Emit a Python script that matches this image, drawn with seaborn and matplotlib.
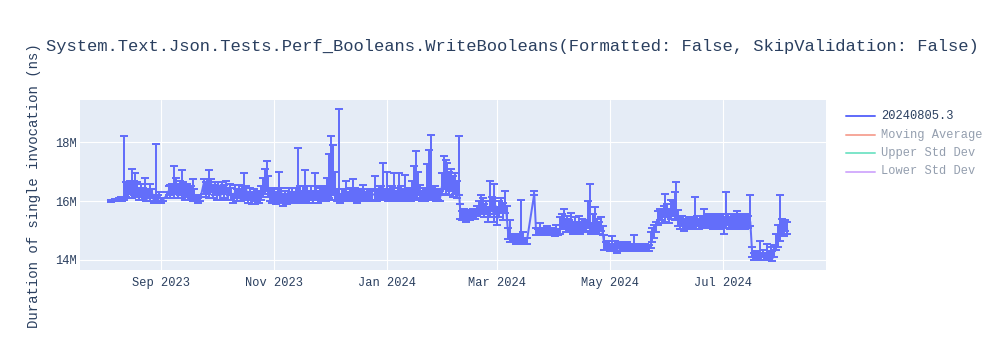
import numpy as np
import pandas as pd
import matplotlib
matplotlib.use("Agg")
import matplotlib.pyplot as plt
import matplotlib.dates as mdates
from matplotlib.lines import Line2D
import seaborn as sns

# ---------------- data (values in millions of ns) ----------------
dates = [
    # Aug 2023
    "2023-08-05", "2023-08-07", "2023-08-09", "2023-08-10", "2023-08-11", "2023-08-12", "2023-08-13",
    "2023-08-14", "2023-08-15", "2023-08-16", "2023-08-17", "2023-08-18", "2023-08-19", "2023-08-20",
    "2023-08-21", "2023-08-22", "2023-08-23", "2023-08-24", "2023-08-25", "2023-08-26", "2023-08-27",
    "2023-08-28", "2023-08-29", "2023-08-30", "2023-08-31",
    # Sep 2023
    "2023-09-01", "2023-09-02", "2023-09-04", "2023-09-05", "2023-09-06", "2023-09-07", "2023-09-08",
    "2023-09-09", "2023-09-10", "2023-09-11", "2023-09-12", "2023-09-13", "2023-09-14", "2023-09-15",
    "2023-09-16", "2023-09-17", "2023-09-18", "2023-09-19", "2023-09-20", "2023-09-21", "2023-09-22",
    "2023-09-24", "2023-09-25", "2023-09-26", "2023-09-27", "2023-09-28", "2023-09-29", "2023-09-30",
    # Oct 2023
    "2023-10-01", "2023-10-02", "2023-10-03", "2023-10-04", "2023-10-05", "2023-10-06", "2023-10-07",
    "2023-10-08", "2023-10-09", "2023-10-10", "2023-10-11", "2023-10-12", "2023-10-13", "2023-10-14",
    "2023-10-15", "2023-10-16", "2023-10-17", "2023-10-18", "2023-10-19", "2023-10-20", "2023-10-21",
    "2023-10-22", "2023-10-23", "2023-10-24", "2023-10-25", "2023-10-26", "2023-10-27", "2023-10-28",
    "2023-10-29", "2023-10-30", "2023-10-31",
    # Nov 2023
    "2023-11-01", "2023-11-02", "2023-11-03", "2023-11-04", "2023-11-05", "2023-11-06", "2023-11-07",
    "2023-11-08", "2023-11-09", "2023-11-10", "2023-11-11", "2023-11-12", "2023-11-13", "2023-11-14",
    "2023-11-15", "2023-11-16", "2023-11-17", "2023-11-18", "2023-11-19", "2023-11-20", "2023-11-21",
    "2023-11-22", "2023-11-23", "2023-11-24", "2023-11-25", "2023-11-26", "2023-11-27", "2023-11-28",
    "2023-11-29", "2023-11-30",
    # Dec 2023
    "2023-12-01", "2023-12-02", "2023-12-03", "2023-12-04", "2023-12-05", "2023-12-06", "2023-12-07",
    "2023-12-08", "2023-12-09", "2023-12-10", "2023-12-11", "2023-12-12", "2023-12-13", "2023-12-14",
    "2023-12-15", "2023-12-16", "2023-12-17", "2023-12-18", "2023-12-19", "2023-12-20", "2023-12-21",
    "2023-12-22", "2023-12-23", "2023-12-24", "2023-12-26", "2023-12-27", "2023-12-28", "2023-12-29",
    "2023-12-30", "2023-12-31",
    # Jan 2024
    "2024-01-01", "2024-01-02", "2024-01-03", "2024-01-04", "2024-01-05", "2024-01-06", "2024-01-07",
    "2024-01-08", "2024-01-09", "2024-01-10", "2024-01-11", "2024-01-12", "2024-01-13", "2024-01-14",
    "2024-01-15", "2024-01-16", "2024-01-17", "2024-01-18", "2024-01-19", "2024-01-20", "2024-01-21",
    "2024-01-22", "2024-01-23", "2024-01-24", "2024-01-25", "2024-01-26", "2024-01-27", "2024-01-28",
    "2024-01-29", "2024-01-30", "2024-01-31",
    # Feb 2024
    "2024-02-01", "2024-02-02", "2024-02-03", "2024-02-04", "2024-02-05", "2024-02-06", "2024-02-07",
    "2024-02-08", "2024-02-09", "2024-02-10", "2024-02-11", "2024-02-12", "2024-02-13", "2024-02-14",
    "2024-02-15", "2024-02-16", "2024-02-17", "2024-02-18", "2024-02-19", "2024-02-20", "2024-02-21",
    "2024-02-22", "2024-02-23", "2024-02-24", "2024-02-25", "2024-02-26", "2024-02-27", "2024-02-28",
    "2024-02-29",
    # Mar 2024
    "2024-03-01", "2024-03-02", "2024-03-03", "2024-03-04", "2024-03-05", "2024-03-06", "2024-03-07",
    "2024-03-08", "2024-03-09", "2024-03-10", "2024-03-11", "2024-03-12", "2024-03-13", "2024-03-14",
    "2024-03-15", "2024-03-16", "2024-03-17", "2024-03-21", "2024-03-22", "2024-03-23", "2024-03-24",
    "2024-03-25", "2024-03-26", "2024-03-27", "2024-03-28", "2024-03-29", "2024-03-30", "2024-03-31",
    # Apr 2024
    "2024-04-01", "2024-04-02", "2024-04-03", "2024-04-04", "2024-04-05", "2024-04-06", "2024-04-07",
    "2024-04-08", "2024-04-09", "2024-04-10", "2024-04-11", "2024-04-12", "2024-04-13", "2024-04-14",
    "2024-04-15", "2024-04-16", "2024-04-17", "2024-04-18", "2024-04-19", "2024-04-20", "2024-04-21",
    "2024-04-22", "2024-04-23", "2024-04-24", "2024-04-25", "2024-04-26", "2024-04-27", "2024-04-28",
    "2024-04-29", "2024-04-30",
    # May 2024
    "2024-05-01", "2024-05-02", "2024-05-03", "2024-05-04", "2024-05-05", "2024-05-06", "2024-05-07",
    "2024-05-08", "2024-05-09", "2024-05-10", "2024-05-11", "2024-05-12", "2024-05-13", "2024-05-14",
    "2024-05-15", "2024-05-16", "2024-05-17", "2024-05-18", "2024-05-19", "2024-05-20", "2024-05-21",
    "2024-05-22", "2024-05-23", "2024-05-24", "2024-05-25", "2024-05-26", "2024-05-27", "2024-05-28",
    "2024-05-29", "2024-05-30", "2024-05-31",
    # Jun 2024
    "2024-06-01", "2024-06-02", "2024-06-03", "2024-06-04", "2024-06-05", "2024-06-06", "2024-06-07",
    "2024-06-08", "2024-06-09", "2024-06-10", "2024-06-11", "2024-06-12", "2024-06-13", "2024-06-14",
    "2024-06-15", "2024-06-16", "2024-06-17", "2024-06-18", "2024-06-19", "2024-06-20", "2024-06-21",
    "2024-06-22", "2024-06-23", "2024-06-24", "2024-06-25", "2024-06-26", "2024-06-27", "2024-06-28",
    "2024-06-29", "2024-06-30",
    # Jul 2024
    "2024-07-01", "2024-07-02", "2024-07-03", "2024-07-04", "2024-07-05", "2024-07-06", "2024-07-07",
    "2024-07-08", "2024-07-09", "2024-07-10", "2024-07-11", "2024-07-12", "2024-07-13", "2024-07-14",
    "2024-07-15", "2024-07-16", "2024-07-17", "2024-07-18", "2024-07-19", "2024-07-20", "2024-07-21",
    "2024-07-22", "2024-07-23", "2024-07-24", "2024-07-25", "2024-07-26", "2024-07-27", "2024-07-28",
    "2024-07-29", "2024-07-30", "2024-07-31",
    # Aug 2024
    "2024-08-01", "2024-08-02", "2024-08-03", "2024-08-04", "2024-08-05",
]

duration_m = [
    # Aug 2023
    16.00, 16.02, 16.03, 16.10, 16.05, 16.15, 16.50, 16.30, 16.55, 16.25, 16.40, 16.30, 16.45, 16.15,
    16.35, 16.10, 16.30, 16.05, 16.20, 16.10, 16.30, 16.00, 16.10, 16.05, 16.20,
    # Sep 2023
    16.00, 16.05, 16.20, 16.35, 16.25, 16.45, 16.30, 16.50, 16.20, 16.40, 16.30, 16.45, 16.15, 16.35,
    16.10, 16.25, 16.10, 16.20, 16.05, 16.00, 16.05, 16.60, 16.35, 16.55, 16.30, 16.60, 16.25, 16.45,
    # Oct 2023
    16.20, 16.55, 16.15, 16.50, 16.25, 16.55, 16.10, 16.45, 16.20, 16.00, 16.35, 16.10, 16.40, 16.05,
    16.30, 16.20, 16.40, 16.05, 16.25, 15.95, 16.15, 16.00, 16.20, 16.05, 16.25, 16.45, 16.60, 16.70,
    16.45, 16.15, 16.00,
    # Nov 2023
    16.30, 15.95, 16.20, 16.05, 16.30, 15.90, 16.15, 15.95, 16.20, 16.00, 16.25, 16.05, 16.30, 16.10,
    16.35, 16.00, 16.25, 16.10, 16.30, 16.05, 16.25, 16.00, 16.20, 16.35, 16.05, 16.25, 16.10, 16.30,
    16.05, 16.40,
    # Dec 2023
    16.60, 16.45, 16.80, 16.20, 16.10, 16.15, 16.05, 16.25, 16.10, 16.20, 16.05, 16.25, 16.10, 16.15,
    16.30, 16.05, 16.20, 16.10, 16.15, 16.25, 16.05, 16.20, 16.10, 16.25, 16.20, 16.10, 16.30, 16.15,
    16.20, 16.10,
    # Jan 2024
    16.25, 16.10, 16.30, 16.15, 16.25, 16.05, 16.20, 16.15, 16.30, 16.10, 16.20, 16.05, 16.25, 16.10,
    16.30, 16.50, 16.40, 16.60, 16.20, 16.05, 16.25, 16.10, 16.30, 16.20, 16.40, 16.15, 16.30, 16.05,
    16.20, 16.10, 16.50,
    # Feb 2024
    16.80, 16.60, 16.90, 16.50, 16.75, 16.40, 16.60, 16.30, 16.55, 15.60, 15.45, 15.60, 15.40, 15.55,
    15.45, 15.50, 15.60, 15.50, 15.70, 15.85, 15.70, 15.90, 15.60, 15.80, 15.50, 15.75, 15.95, 15.55,
    15.85,
    # Mar 2024
    15.40, 15.70, 15.90, 15.60, 15.80, 15.55, 14.80, 14.70, 14.65, 14.75, 14.60, 14.70, 14.65, 14.80,
    14.70, 14.60, 14.65, 16.25, 14.95, 14.90, 15.00, 14.90, 14.95, 14.90, 15.00, 14.95, 14.90, 14.95,
    # Apr 2024
    14.90, 15.00, 14.90, 15.05, 15.25, 15.35, 15.10, 15.30, 15.05, 15.20, 15.00, 15.25, 15.05, 15.15,
    15.00, 15.20, 15.05, 15.15, 15.40, 15.20, 15.00, 15.25, 15.05, 15.20, 15.00, 15.15, 14.95, 14.50,
    14.45, 14.55,
    # May 2024
    14.40, 14.50, 14.40, 14.55, 14.35, 14.50, 14.40, 14.45, 14.35, 14.50, 14.40, 14.45, 14.35, 14.50,
    14.40, 14.45, 14.35, 14.45, 14.40, 14.45, 14.35, 14.40, 14.50, 14.80, 14.95, 15.15, 15.40, 15.55,
    15.45, 15.65, 15.50,
    # Jun 2024
    15.70, 15.45, 15.60, 15.80, 15.55, 15.70, 15.40, 15.20, 15.35, 15.10, 15.25, 15.15, 15.30, 15.15,
    15.25, 15.20, 15.35, 15.15, 15.30, 15.20, 15.35, 15.20, 15.40, 15.25, 15.35, 15.20, 15.40, 15.25,
    15.30, 15.20,
    # Jul 2024
    15.35, 15.15, 15.30, 15.40, 15.20, 15.35, 15.25, 15.35, 15.20, 15.35, 15.25, 15.40, 15.20, 15.35,
    15.25, 15.30, 14.25, 14.10, 14.20, 14.05, 14.25, 14.10, 14.20, 14.05, 14.20, 14.10, 14.25, 14.05,
    14.30, 14.55, 14.75,
    # Aug 2024
    15.00, 15.15, 15.00, 15.20, 15.05,
]

err_minus_m = [
    # Aug 2023
    .02, .02, .03, .05, .03, .10, .35, .20, .30, .15, .20, .15, .25, .10,
    .20, .05, .20, .05, .10, .10, .20, .05, .10, .05, .10,
    # Sep 2023
    .05, .05, .10, .15, .15, .20, .20, .25, .10, .20, .20, .20, .10, .20,
    .05, .15, .10, .15, .05, .05, .05, .35, .20, .30, .20, .30, .15, .25,
    # Oct 2023
    .15, .25, .10, .25, .15, .25, .05, .25, .15, .05, .25, .10, .25, .05,
    .20, .15, .30, .10, .20, .05, .15, .10, .20, .10, .20, .30, .35, .35,
    .30, .15, .05,
    # Nov 2023
    .25, .05, .20, .10, .25, .05, .20, .05, .20, .05, .20, .10, .25, .10,
    .25, .05, .20, .10, .25, .10, .20, .05, .15, .30, .10, .20, .10, .25,
    .05, .35,
    # Dec 2023
    .50, .40, .60, .15, .10, .10, .10, .20, .10, .15, .05, .20, .10, .15,
    .25, .10, .15, .10, .10, .20, .05, .15, .10, .20, .15, .10, .20, .10,
    .15, .05,
    # Jan 2024
    .15, .10, .20, .10, .20, .05, .15, .10, .25, .10, .15, .05, .20, .10,
    .25, .35, .30, .40, .15, .05, .20, .10, .25, .15, .30, .10, .20, .05,
    .15, .10, .30,
    # Feb 2024
    .40, .35, .50, .30, .40, .25, .35, .20, .35, .20, .10, .20, .10, .15,
    .10, .10, .15, .10, .20, .25, .15, .25, .15, .25, .20, .30, .30, .25,
    .30,
    # Mar 2024
    .20, .25, .30, .25, .20, .20, .10, .10, .05, .10, .05, .10, .10, .15,
    .10, .05, .10, .05, .10, .05, .10, .05, .10, .05, .10, .10, .05, .10,
    # Apr 2024
    .10, .10, .05, .15, .20, .25, .15, .25, .10, .20, .10, .20, .10, .15,
    .10, .15, .10, .15, .30, .25, .10, .25, .10, .20, .10, .15, .10, .15,
    .10, .15,
    # May 2024
    .10, .15, .10, .15, .10, .10, .10, .10, .05, .15, .10, .10, .05, .15,
    .10, .10, .05, .10, .10, .10, .05, .10, .10, .20, .20, .20, .20, .20,
    .20, .20, .20,
    # Jun 2024
    .25, .20, .20, .30, .20, .30, .25, .15, .20, .10, .15, .10, .20, .10,
    .15, .15, .20, .10, .15, .10, .20, .10, .20, .15, .20, .15, .25, .15,
    .15, .15,
    # Jul 2024
    .20, .25, .20, .20, .15, .20, .15, .20, .15, .20, .15, .25, .15, .20,
    .15, .15, .15, .10, .15, .05, .15, .10, .10, .05, .15, .10, .15, .10,
    .20, .20, .30,
    # Aug 2024
    .35, .25, .20, .20, .15,
]

err_plus_m = [
    # Aug 2023
    .03, .05, .08, .05, .10, 2.05, .15, .30, .15, .85, .30, .65, .20, .30,
    .25, .35, .50, .30, .20, .50, .10, .20, 1.85, .15, .10,
    # Sep 2023
    .10, .05, .10, .15, .30, .15, .90, .30, .40, .30, .75, .20, .35, .25,
    .40, .25, .65, .20, .15, .10, .10, .15, .30, .20, .75, .15, .30, .20,
    # Oct 2023
    .30, .10, .35, .15, .30, .15, .30, .15, .25, .25, .20, .30, .15, .30,
    .20, .75, .10, .25, .20, .30, .25, .30, .15, .25, .25, .35, .50, .65,
    .40, .30, .40,
    # Nov 2023
    .15, .35, .20, .95, .15, .35, .20, .30, .25, .30, .20, .25, .15, 1.70,
    .15, .35, .25, .95, .20, .30, .25, .35, .75, .15, .30, .20, .40, .20,
    .45, .40,
    # Dec 2023
    1.00, 1.75, 1.10, .80, .30, 3.00, .20, .15, .30, .50, .25, .20, .30, .60,
    .15, .30, .20, .25, .40, .15, .25, .20, .25, .15, .65, .30, .20, .35,
    1.10, .30,
    # Jan 2024
    .75, .30, .20, .35, .70, .30, .25, .80, .20, .30, .70, .30, .20, .30,
    .40, .70, 1.30, .40, .35, .30, .20, .35, .95, 1.55, 1.85, .35, .20, .30,
    .20, .25, .45,
    # Feb 2024
    .75, .80, .40, .50, .35, .45, .35, .40, 1.65, .30, .20, .15, .20, .15,
    .20, .15, .15, .20, .15, .15, .50, .20, .30, .20, .30, .95, .20, 1.05,
    .25,
    # Mar 2024
    .40, .30, .20, .35, .55, .30, .30, .65, .20, .15, .25, .20, .20, 1.25,
    .25, .15, .10, .10, .15, .15, .25, .15, .10, .20, .15, .15, .20, .15,
    # Apr 2024
    .10, .20, .15, .40, .30, .40, .30, .20, .30, .40, .30, .20, .25, .35,
    .25, .20, .25, .20, .60, 1.40, .25, .30, .75, .20, .30, .30, .20, .35,
    .15, .10,
    # May 2024
    .15, .30, .15, .10, .20, .10, .15, .15, .20, .10, .15, .10, .20, .35,
    .15, .10, .15, .10, .15, .10, .15, .10, .45, .30, .25, .15, .25, .20,
    .25, .20, .75,
    # Jun 2024
    .20, .30, .45, .20, .75, .95, .30, .25, .15, .25, .15, .20, .15, .25,
    .20, .95, .15, .25, .20, .30, .40, .25, .15, .25, .20, .25, .15, .20,
    .20, .25,
    # Jul 2024
    .20, .25, 1.00, .15, .25, .20, .25, .20, .45, .20, .25, .15, .25, .20,
    .25, .90, .20, .15, .10, .20, .40, .15, .15, .20, .35, .15, .20, .25,
    .20, .35, .45,
    # Aug 2024
    1.20, .25, .30, .15, .25,
]

series_name = "20240805.3"
hidden_series = ["Moving Average", "Upper Std Dev", "Lower Std Dev"]
hidden_colors = ["#EF553B", "#00CC96", "#AB63FA"]
title_text = "System.Text.Json.Tests.Perf_Booleans.WriteBooleans(Formatted: False, SkipValidation: False)"
y_label = "Duration of single invocation (ns)"
y_ticks_m = [14, 16, 18]
y_tick_labels = ["14M", "16M", "18M"]
x_tick_dates = ["2023-09-01", "2023-11-01", "2024-01-01", "2024-03-01", "2024-05-01", "2024-07-01"]

assert len(dates) == len(duration_m) == len(err_minus_m) == len(err_plus_m)

# ---------------- build frame ----------------
df = pd.DataFrame({
    "date": pd.to_datetime(dates),
    "duration": np.array(duration_m) * 1e6,
})
err = np.vstack([np.array(err_minus_m), np.array(err_plus_m)]) * 1e6

# ---------------- style ----------------
sns.set_theme(style="darkgrid", rc={
    "axes.facecolor": "#E5ECF6",
    "grid.color": "white",
    "grid.linewidth": 0.8,
    "axes.edgecolor": "none",
})
plt.rcParams["font.family"] = ["Liberation Mono", "DejaVu Sans"]
text_color = "#2a3f5f"
line_color = "#636efa"
PX = 72 / 100  # points per pixel

fig = plt.figure(figsize=(10, 3.5), dpi=100)
fig.patch.set_facecolor("white")
ax = fig.add_axes([80 / 1000, 1 - 270 / 350, (826 - 80) / 1000, 170 / 350])

# capsize in matplotlib is the half-width of the cap
ax.errorbar(df["date"], df["duration"], yerr=err, fmt="none", ecolor=line_color,
            elinewidth=2 * PX, capsize=4 * PX, capthick=2 * PX, zorder=2)
sns.lineplot(data=df, x="date", y="duration", ax=ax, color=line_color,
             linewidth=2 * PX, zorder=3, legend=False, estimator=None, sort=True)

ax.set_xlim(pd.Timestamp("2023-07-19"), pd.Timestamp("2024-08-26"))
ax.set_ylim(13.66e6, 19.44e6)
ax.set_yticks([v * 1e6 for v in y_ticks_m])
ax.set_yticklabels(y_tick_labels)
ax.set_xticks(pd.to_datetime(x_tick_dates))
ax.xaxis.set_major_formatter(mdates.DateFormatter("%b %Y"))
ax.set_xlabel("")
ax.set_ylabel("")
ax.tick_params(axis="both", length=0, labelsize=12 * PX, labelcolor=text_color)
ax.tick_params(axis="y", pad=2)
ax.tick_params(axis="x", pad=5)
for s in ax.spines.values():
    s.set_visible(False)

# title and axis label
fig.text(0.512, 1 - 46 / 350, title_text, ha="center", va="center",
         fontsize=12.3, color=text_color)
fig.text(0.034, 1 - 186 / 350, y_label, rotation=90, ha="center", va="center",
         fontsize=14 * PX, color=text_color)

# legend (hidden traces greyed out, as in the reference)
leg_rows = [(series_name, line_color, 1.0)] + [(n, c, 0.5) for n, c in zip(hidden_series, hidden_colors)]
leg_y_px = [116, 134.5, 153, 171.5]
for (name, col, alpha), ypx in zip(leg_rows, leg_y_px):
    yf = 1 - ypx / 350
    fig.add_artist(Line2D([846 / 1000, 875 / 1000], [yf, yf], transform=fig.transFigure,
                          color=col, alpha=alpha, linewidth=2 * PX))
    fig.text(881 / 1000, yf, name, ha="left", va="center", fontsize=12 * PX,
             color=text_color, alpha=alpha)

fig.savefig("out.png", dpi=100)
